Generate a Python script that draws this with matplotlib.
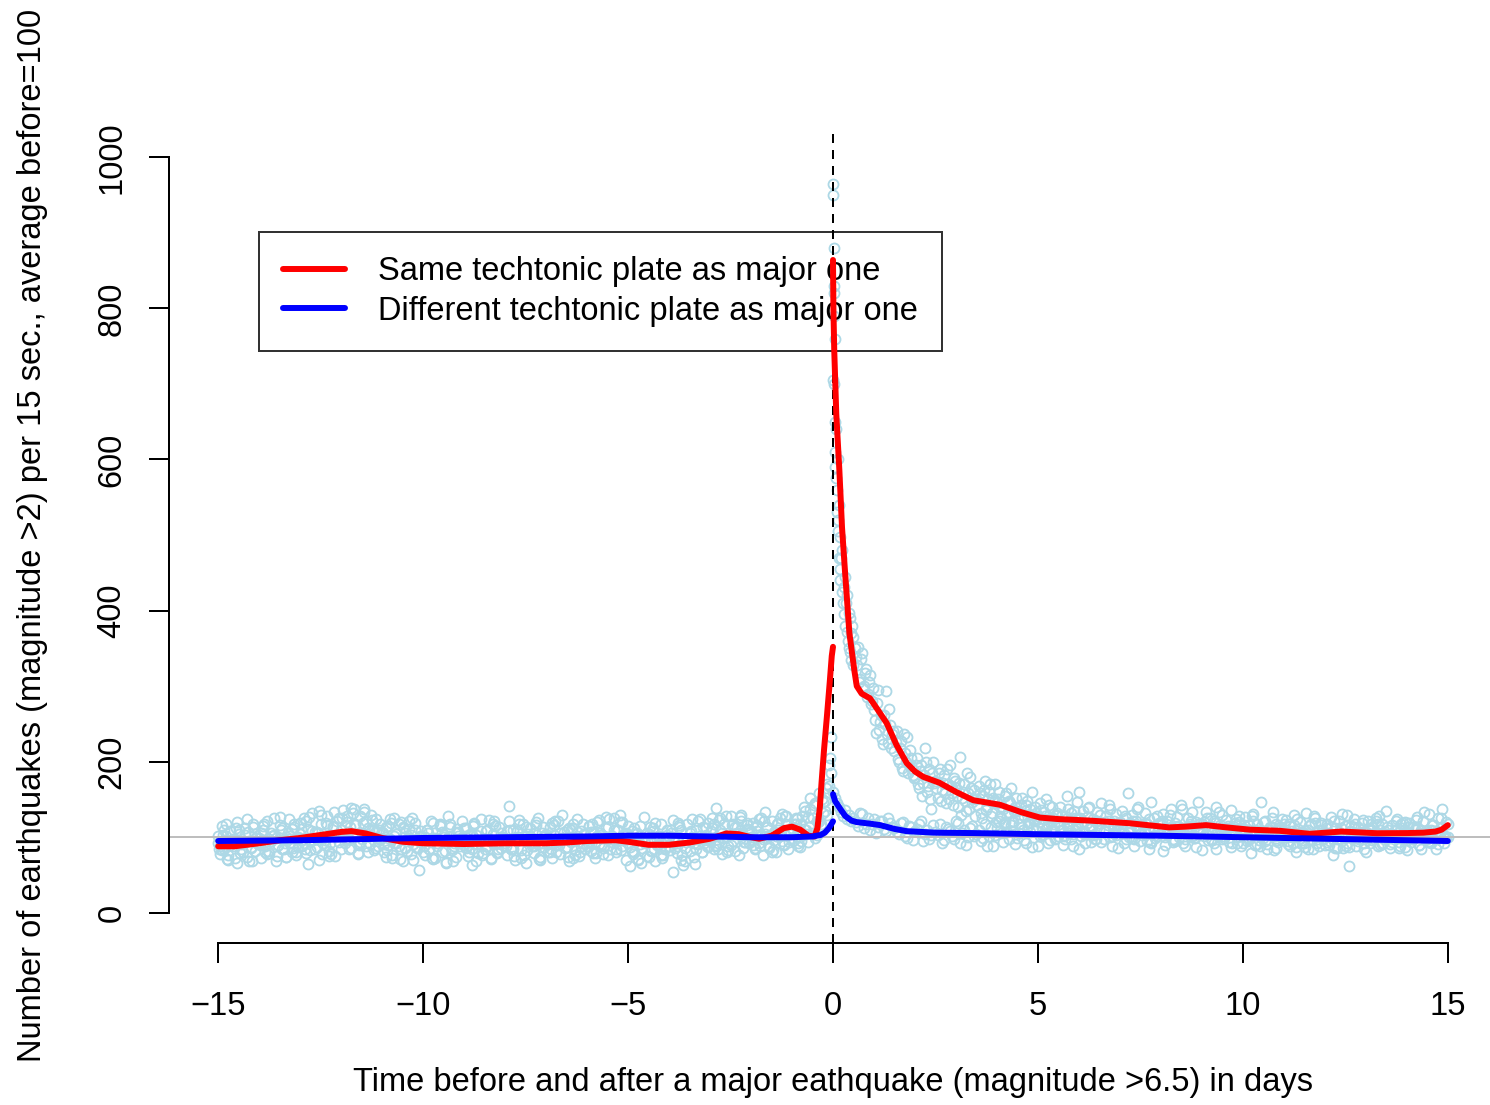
import numpy as np
import matplotlib
matplotlib.use("Agg")
import matplotlib.pyplot as plt
from matplotlib.lines import Line2D

# ---------------- data ----------------
x_ticks = [-15, -10, -5, 0, 5, 10, 15]
x_tick_labels = ["\u221215", "\u221210", "\u22125", "0", "5", "10", "15"]
y_ticks = [0, 200, 400, 600, 800, 1000]
y_tick_labels = ["0", "200", "400", "600", "800", "1000"]

# same plate, scatter before the major quake (t = -15.00 ... -0.05, step 0.05)
same_before_start, same_before_step = -15.0, 0.05
same_before = [
    92, 78, 115, 84, 101, 70, 108, 88, 96, 66, 104, 91, 80, 112, 74, 95, 87, 118, 82, 93,
    99, 72, 110, 88, 121, 79, 95, 103, 68, 90, 116, 85, 97, 74, 106, 92, 81, 113, 77, 100,
    104, 88, 125, 79, 111, 96, 132, 84, 107, 70, 118, 99, 90, 128, 82, 103, 115, 75, 121, 94,
    110, 136, 92, 120, 85, 139, 104, 116, 78, 128, 97, 134, 88, 112, 101, 123, 83, 108, 95, 117,
    99, 80, 114, 90, 124, 73, 102, 93, 118, 84, 69, 106, 97, 121, 78, 91, 110, 86, 57, 100,
    94, 76, 110, 85, 121, 71, 99, 88, 115, 80, 103, 67, 96, 118, 83, 92, 74, 107, 89, 98,
    90, 112, 75, 101, 84, 119, 69, 95, 108, 79, 97, 88, 123, 72, 104, 91, 81, 114, 86, 99,
    93, 77, 141, 85, 109, 70, 98, 117, 83, 102, 66, 95, 112, 88, 79, 120, 91, 74, 105, 87,
    96, 81, 114, 72, 103, 90, 122, 78, 99, 86, 110, 68, 94, 117, 83, 101, 75, 108, 92, 85,
    98, 115, 82, 107, 73, 120, 91, 103, 86, 112, 77, 100, 94, 125, 80, 109, 130, 88, 104, 70,
    92, 62, 108, 80, 99, 71, 115, 86, 95, 75, 104, 83, 112, 68, 90, 101, 77, 96, 85, 110,
    88, 105, 54, 94, 79, 113, 70, 98, 86, 118, 82, 100, 74, 109, 91, 124, 80, 96, 103, 87,
    97, 125, 84, 139, 93, 110, 78, 118, 101, 89, 128, 95, 82, 113, 105, 121, 86, 99, 116, 92,
    100, 119, 84, 108, 93, 126, 77, 104, 113, 88, 122, 96, 80, 110, 101, 131, 90, 117, 85, 107,
    112, 96, 125, 88, 118, 103, 140, 110, 127, 152, 106, 145, 121, 158, 115, 132, 148, 171, 195, 232,
]
# same plate, extra samples before (t = -14.975 ... -0.075, step 0.1)
same_before_b_start, same_before_b_step = -14.975, 0.1
same_before_b = [
    84, 103, 71, 96, 112, 79, 92, 107, 68, 99,
    90, 118, 82, 101, 75, 109, 93, 124, 86, 98,
    111, 84, 127, 96, 105, 78, 119, 92, 133, 101,
    125, 97, 113, 138, 90, 119, 104, 130, 86, 110,
    105, 83, 119, 92, 71, 112, 99, 125, 87, 102,
    88, 106, 73, 97, 116, 82, 101, 69, 111, 94,
    102, 80, 115, 91, 76, 108, 95, 121, 84, 97,
    89, 110, 75, 100, 118, 83, 94, 106, 71, 113,
    99, 84, 121, 90, 107, 74, 112, 96, 80, 104,
    93, 118, 79, 105, 88, 124, 97, 110, 83, 101,
    97, 78, 106, 66, 93, 113, 84, 102, 73, 95,
    83, 100, 119, 76, 94, 108, 65, 98, 114, 89,
    108, 90, 123, 99, 80, 116, 104, 127, 94, 111,
    96, 114, 88, 121, 102, 83, 118, 107, 128, 94,
    109, 124, 95, 135, 113, 142, 120, 150, 165, 205,
]

# same plate, scatter right after the major quake (irregular times)
same_spike_t = [0.00, 0.005, 0.01, 0.015, 0.02, 0.025, 0.03, 0.035, 0.04, 0.045, 0.05, 0.06,
                0.07, 0.08, 0.09, 0.10, 0.11, 0.12, 0.13, 0.14, 0.15, 0.16, 0.17, 0.18, 0.20,
                0.21, 0.23, 0.24, 0.26, 0.27, 0.29, 0.30, 0.32, 0.33, 0.35, 0.36, 0.38, 0.39,
                0.41, 0.42, 0.44, 0.45, 0.47, 0.48]
same_spike = [965, 950, 705, 880, 830, 820, 790, 700, 760, 650, 590, 610,
              640, 575, 560, 530, 600, 505, 520, 470, 540, 455, 497, 440, 470,
              425, 480, 410, 431, 395, 445, 380, 410, 372, 420, 360, 397, 350,
              390, 345, 370, 335, 380, 328]

# same plate, scatter after (t = 0.50 ... 15.00, step 0.05)
same_after_start, same_after_step = 0.5, 0.05
same_after = [
    365, 338, 352, 310, 344, 300, 322, 290, 315, 280,
    268, 238, 295, 252, 230, 262, 293, 225, 248, 236,
    214, 240, 200, 228, 188, 212, 232, 196, 205, 183,
    180, 205, 165, 196, 172, 218, 160, 190, 138, 200,
    175, 152, 190, 163, 182, 145, 170, 196, 158, 178,
    165, 140, 206, 152, 170, 135, 158, 180, 146, 162,
    150, 168, 132, 155, 175, 140, 160, 128, 152, 170,
    145, 160, 125, 138, 155, 130, 148, 165, 122, 140,
    135, 118, 152, 128, 142, 115, 138, 160, 124, 132,
    128, 145, 112, 133, 150, 118, 125, 140, 108, 130,
    122, 140, 110, 128, 155, 115, 132, 104, 125, 146,
    160, 118, 135, 106, 127, 140, 112, 124, 98, 133, 119, 145, 108, 128, 116, 138, 102, 122, 131, 110,
    120, 135, 105, 126, 158, 112, 130, 98, 122, 140, 109, 117, 132, 95, 124, 146, 113, 103, 128, 119,
    116, 131, 100, 122, 108, 137, 94, 119, 127, 105, 142, 112, 98, 125, 115, 133, 103, 120, 147, 109,
    118, 101, 134, 110, 125, 96, 121, 140, 107, 116, 130, 99, 123, 112, 136, 104, 119, 93, 128, 111,
    112, 127, 95, 116, 104, 131, 90, 118, 108, 146, 99, 122, 85, 113, 126, 102, 118, 94, 110, 124,
    108, 123, 91, 115, 100, 129, 87, 111, 120, 96, 106, 132, 84, 117, 103, 125, 93, 110, 119, 98,
    104, 118, 90, 127, 98, 112, 86, 121, 101, 86, 115, 130, 62, 108, 124, 88, 113, 103, 119, 92,
    107, 121, 93, 114, 101, 126, 88, 110, 118, 97, 135, 104, 91, 116, 109, 124, 86, 112, 100, 120,
    106, 119, 94, 113, 101, 127, 90, 110, 122, 97, 108, 131, 93, 116, 104, 125, 112, 137, 99, 120, 118,
]
# same plate, extra samples in the decay (t = 0.525 ... 5.975, step 0.05)
same_after_b_start, same_after_b_step = 0.525, 0.05
same_after_b = [
    350, 328, 305, 336, 298, 318, 285, 306, 276, 298,
    255, 278, 242, 262, 224, 250, 236, 270, 218, 240,
    226, 204, 218, 192, 236, 200, 185, 215, 190, 178,
    195, 170, 188, 155, 182, 200, 168, 150, 185, 172,
    165, 185, 148, 172, 158, 190, 150, 168, 142, 175,
    155, 172, 130, 160, 148, 185, 138, 165, 150, 128,
    142, 158, 125, 162, 136, 150, 170, 132, 146, 120,
    150, 128, 140, 118, 158, 133, 145, 120, 135, 152,
    125, 142, 110, 135, 148, 120, 130, 112, 140, 126,
    120, 136, 104, 128, 115, 142, 110, 125, 98, 132,
    118, 130, 102, 124, 138, 108, 121, 135, 112, 126,
]
# same plate, extra samples later (t = 6.025 ... 14.925, step 0.1)
same_after_c_start, same_after_c_step = 6.025, 0.1
same_after_c = [
    125, 108, 139, 115, 97, 130, 120, 143, 105, 118,
    113, 128, 100, 121, 137, 106, 118, 94, 126, 110,
    121, 104, 129, 96, 115, 138, 108, 122, 99, 117,
    107, 126, 98, 119, 133, 102, 115, 92, 124, 109,
    116, 99, 128, 105, 89, 120, 110, 134, 96, 113,
    101, 118, 92, 124, 106, 87, 115, 128, 97, 109,
    112, 95, 121, 103, 131, 89, 108, 117, 98, 123,
    99, 117, 106, 128, 92, 113, 101, 122, 88, 110,
    114, 97, 123, 105, 133, 94, 116, 108, 126, 102,
]

# different plate, scatter before (t = -15.0 ... -0.1, step 0.1)
diff_before_start, diff_before_step = -15.0, 0.1
diff_before = [
    101, 83, 118, 90, 72, 109, 95, 124, 86, 104,
    92, 115, 78, 106, 99, 127, 84, 97, 111, 80,
    119, 93, 64, 108, 87, 129, 96, 75, 113, 101,
    85, 116, 97, 132, 79, 104, 122, 91, 110, 88,
    107, 74, 98, 126, 89, 113, 82, 103, 119, 95,
    81, 109, 94, 72, 117, 100, 128, 86, 105, 93,
    112, 90, 63, 103, 124, 85, 98, 117, 79, 106,
    96, 121, 84, 108, 73, 114, 101, 89, 126, 92,
    104, 80, 116, 95, 129, 87, 110, 76, 99, 118,
    89, 107, 94, 123, 78, 113, 101, 85, 120, 97,
    115, 82, 104, 91, 127, 74, 108, 96, 118, 86,
    100, 123, 88, 110, 69, 105, 93, 121, 81, 112,
    95, 117, 84, 106, 128, 90, 114, 77, 103, 119,
    108, 86, 124, 97, 113, 80, 102, 125, 91, 110,
    99, 118, 87, 111, 94, 126, 103, 117, 135, 168,
]
# different plate, scatter before, half-step samples (t = -14.95 ... -0.05, step 0.1)
diff_before_b_start, diff_before_b_step = -14.95, 0.1
diff_before_b = [
    88, 110, 76, 97, 120, 85, 103, 69, 114, 93,
    105, 81, 98, 126, 90, 112, 74, 101, 118, 87,
    96, 121, 83, 107, 135, 92, 116, 78, 103, 125,
    102, 128, 86, 118, 94, 137, 81, 109, 124, 97,
    91, 115, 77, 104, 120, 86, 111, 70, 98, 108,
    100, 84, 119, 93, 107, 66, 113, 89, 102, 122,
    86, 104, 118, 79, 96, 109, 71, 115, 92, 100,
    108, 85, 99, 123, 77, 104, 92, 116, 70, 101,
    91, 119, 80, 105, 97, 112, 73, 124, 88, 103,
    115, 79, 101, 90, 127, 84, 109, 96, 120, 106,
    87, 112, 70, 99, 106, 82, 119, 91, 76, 103,
    109, 86, 116, 63, 98, 124, 84, 102, 92, 119,
    112, 88, 126, 99, 83, 117, 105, 130, 94, 110,
    90, 116, 101, 133, 86, 107, 119, 95, 128, 104,
    117, 92, 128, 104, 138, 99, 121, 146, 130, 185,
]

# different plate, scatter just after (t = 0.00 ... 0.45, step 0.05)
diff_spike_start, diff_spike_step = 0.0, 0.05
diff_spike = [160, 152, 145, 140, 133, 128, 136, 124, 130, 121]

# different plate, scatter after (t = 0.5 ... 15.0, step 0.1)
diff_after_start, diff_after_step = 0.5, 0.1
diff_after = [
    126, 115, 131, 118, 110, 124, 114, 121, 108, 119,
    112, 104, 120, 99, 114, 108, 118, 95, 110, 103,
    107, 118, 96, 111, 102, 122, 93, 109, 100, 115,
    104, 95, 117, 101, 89, 112, 106, 120, 97, 108,
    99, 114, 92, 107, 121, 88, 103, 111, 96, 118,
    102, 90, 115, 98, 109, 85, 106, 119, 94, 104,
    110, 97, 121, 88, 103, 114, 92, 107, 99, 116,
    95, 108, 84, 112, 101, 119, 90, 105, 97, 113,
    106, 89, 118, 99, 110, 83, 104, 115, 93, 101,
    97, 112, 87, 105, 120, 92, 100, 79, 109, 96,
    104, 91, 114, 86, 102, 117, 95, 108, 80, 99,
    93, 109, 84, 101, 116, 90, 105, 76, 98, 112,
    100, 87, 113, 95, 104, 81, 110, 97, 118, 91,
    102, 86, 108, 94, 119, 83, 99, 111, 90, 105,
    97, 110, 85, 103, 92, 100,
]
# different plate, scatter after, half-step samples (t = 0.55 ... 14.95, step 0.1)
diff_after_b_start, diff_after_b_step = 0.55, 0.1
diff_after_b = [
    120, 132, 112, 125, 117, 106, 122, 111, 126, 113,
    107, 119, 101, 115, 96, 111, 121, 104, 98, 116,
    103, 92, 114, 108, 97, 119, 105, 90, 112, 101,
    110, 99, 88, 114, 103, 121, 94, 107, 116, 91,
    105, 96, 119, 87, 110, 101, 124, 93, 108, 99,
    113, 97, 106, 88, 118, 101, 92, 111, 103, 122,
    94, 108, 100, 116, 86, 105, 97, 119, 89, 110,
    103, 117, 92, 99, 111, 82, 106, 114, 95, 100,
    92, 113, 101, 87, 108, 120, 96, 105, 84, 111,
    106, 94, 115, 100, 88, 110, 97, 121, 91, 103,
    95, 109, 83, 112, 99, 105, 89, 116, 101, 93,
    108, 97, 119, 88, 104, 94, 113, 86, 107, 100,
    92, 115, 99, 107, 85, 111, 96, 121, 90, 104,
    110, 94, 100, 117, 87, 106, 98, 114, 84, 102,
    95, 108, 91, 113, 99,
]

# smoothed curves (same plate = red, different plate = blue)
red_before_t = [-15, -14.6, -14, -13.5, -13, -12.5, -12, -11.75, -11.4, -11, -10.5, -10, -9, -8,
                -7, -6.5, -6, -5.3, -5, -4.5, -4, -3.5, -3, -2.6, -2.3, -2, -1.8, -1.5, -1.2,
                -1.0, -0.8, -0.6, -0.45, -0.38, -0.32, -0.28, -0.22, -0.15, -0.08, -0.03, 0]
red_before_v = [88, 88, 92, 96, 99, 103, 107, 108, 105, 99, 94, 92, 91, 92,
                92, 93, 95, 96, 94, 90, 90, 93, 98, 105, 104, 100, 98, 102, 112,
                114, 110, 102, 101, 112, 140, 172, 215, 259, 305, 340, 352]
red_after_t = [0, 0.01, 0.03, 0.08, 0.155, 0.22, 0.29, 0.4, 0.52, 0.58, 0.7, 0.9, 1.1, 1.31,
               1.55, 1.8, 2.0, 2.2, 2.6, 3.0, 3.42, 4.07, 4.6, 5.05, 5.5, 6.27, 7.24, 8.2, 8.6,
               9.1, 9.6, 10.17, 10.9, 11.63, 12.4, 13.27, 14.0, 14.4, 14.7, 14.85, 15]
red_after_v = [864, 800, 745, 660, 586, 510, 454, 370, 321, 300, 290, 284, 268, 251,
               222, 198, 187, 180, 172, 160, 149, 143, 133, 126, 124, 122, 118.5, 113, 114,
               116, 113, 110, 108.5, 104.5, 107.5, 105.3, 105.5, 106, 107.5, 110, 116]
blue_before_t = [-15, -13, -12, -10, -8, -6, -5, -4, -3, -2, -1, -0.5, -0.3, -0.2, -0.1, 0]
blue_before_v = [95, 96, 97, 99, 100, 101, 102, 102, 101, 100, 100, 101, 103, 106, 112, 121]
blue_after_t = [0, 0.05, 0.17, 0.3, 0.45, 0.58, 0.9, 1.15, 1.5, 1.8, 2.5, 3.4, 5, 6.5, 8, 10, 12, 14, 15]
blue_after_v = [157, 148, 138, 128, 122, 120, 118, 116, 111, 108, 106, 105.5, 104, 103, 102, 100, 98, 96, 95]

baseline = 100
event_time = 0

labels = ["Same techtonic plate as major one", "Different techtonic plate as major one"]
xlabel = "Time before and after a major eathquake (magnitude >6.5) in days"
ylabel = "Number of earthquakes (magnitude >2) per 15 sec., average before=100"


def times(start, step, vals):
    return np.round(start + step * np.arange(len(vals)), 4)


# ---------------- figure ----------------
plt.rcParams["font.family"] = ["Liberation Sans", "DejaVu Sans"]
FS = 23.5
W, H = 1490, 1105
fig = plt.figure(figsize=(W / 100, H / 100), dpi=100)
ax_l, ax_r, ax_t, ax_b = 169, 1497, 127, 943
ax = fig.add_axes([ax_l / W, 1 - ax_b / H, (ax_r - ax_l) / W, (ax_b - ax_t) / H])
ax.set_xlim(-16.2, 16.2)
ax.set_ylim(-40, 1040)

pt_kw = dict(ls="none", marker="o", ms=7.2, mfc="none", mec="#ADD8E6", mew=1.3, zorder=2)
series = [
    (times(diff_before_start, diff_before_step, diff_before), diff_before),
    (times(diff_before_b_start, diff_before_b_step, diff_before_b), diff_before_b),
    (times(same_before_start, same_before_step, same_before), same_before),
    (times(same_before_b_start, same_before_b_step, same_before_b), same_before_b),
    (same_spike_t, same_spike),
    (times(same_after_start, same_after_step, same_after), same_after),
    (times(same_after_b_start, same_after_b_step, same_after_b), same_after_b),
    (times(same_after_c_start, same_after_c_step, same_after_c), same_after_c),
    (times(diff_spike_start, diff_spike_step, diff_spike), diff_spike),
    (times(diff_after_start, diff_after_step, diff_after), diff_after),
    (times(diff_after_b_start, diff_after_b_step, diff_after_b), diff_after_b),
]
for tx, vy in series:
    ax.plot(tx, vy, **pt_kw)

ax.axhline(baseline, color="#BEBEBE", lw=1.44, zorder=2.2)
ax.axvline(event_time, color="black", lw=1.44, ls=(0, (4.5, 3.5)), zorder=2.3)

line_kw = dict(lw=4.3, solid_capstyle="round", solid_joinstyle="round", zorder=3)
ax.plot(red_before_t, red_before_v, color="#FF0000", **line_kw)
ax.plot(red_after_t, red_after_v, color="#FF0000", **line_kw)
ax.plot(blue_before_t, blue_before_v, color="#0000FF", **line_kw)
ax.plot(blue_after_t, blue_after_v, color="#0000FF", **line_kw)

# axes styling (R-like detached axes)
for s in ["top", "right"]:
    ax.spines[s].set_visible(False)
ax.spines["left"].set_bounds(0, 1000)
ax.spines["bottom"].set_bounds(-15, 15)
for s in ["left", "bottom"]:
    ax.spines[s].set_linewidth(1.44)
ax.set_xticks(x_ticks)
ax.set_xticklabels(x_tick_labels, fontsize=FS)
ax.set_yticks(y_ticks)
ax.set_yticklabels(y_tick_labels, fontsize=FS, rotation=90, va="center")
ax.tick_params(axis="both", direction="out", length=14.4, width=1.44, color="black")
ax.tick_params(axis="x", pad=20.5)
ax.tick_params(axis="y", pad=15.5)

ax.set_xlabel(xlabel, fontsize=FS)
ax.xaxis.set_label_coords(0.5, (ax_b - 1083) / (ax_b - ax_t))
ax.xaxis.label.set_va("center")
ax.set_ylabel(ylabel, fontsize=FS)
ax.yaxis.set_label_coords((33 - ax_l) / (ax_r - ax_l), 0.5)
ax.yaxis.label.set_va("center")
ax.yaxis.label.set_ha("center")

handles = [Line2D([], [], color="#FF0000", lw=4.3, solid_capstyle="round"),
           Line2D([], [], color="#0000FF", lw=4.3, solid_capstyle="round")]
leg = ax.legend(handles, labels, loc="upper left",
                bbox_to_anchor=(259 / W, 1 - 232 / H), bbox_transform=fig.transFigure,
                borderaxespad=0, borderpad=0.75, handlelength=1.9, handletextpad=1.0,
                labelspacing=0.25, fontsize=FS, fancybox=False, frameon=True)
leg.get_frame().set_edgecolor("black")
leg.get_frame().set_facecolor("none")
leg.get_frame().set_linewidth(1.44)
leg.set_zorder(2.5)

fig.savefig("out.png", dpi=100)
